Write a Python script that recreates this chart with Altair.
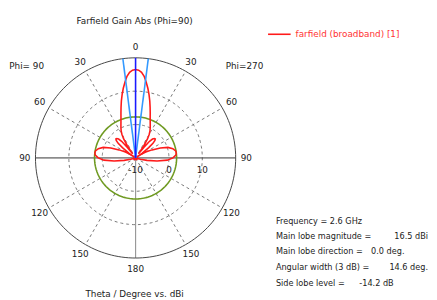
import altair as alt
import numpy as np
import pandas as pd

# ---- data ----
theta_deg = [0, 2, 4, 6, 7.3, 8, 10, 12, 14, 16, 18, 20, 22, 24, 26, 28, 30, 32, 34, 36,
             38, 40, 42, 44, 46, 48, 50, 52, 54, 56, 58, 60, 64, 68, 72, 76, 80, 83, 86,
             90, 94, 98, 102, 106, 110, 120, 135, 150, 165, 180]
gain_dbi = [16.5, 16.3, 15.7, 14.6, 13.5, 12.9, 11.2, 9.4, 7.6, 5.8, 4.2, 2.8, 1.7, 0.8, 0.0, -0.8, -1.8, -3.2, -5.5, -8.5,
            -6.0, -3.5, -2.4, -1.9, -1.8, -2.2, -3.2, -5.0, -7.5, -10.0, -8.0, -6.5, -4.5, -2.0, 0.2, 1.5, 2.2, 2.3, 2.1,
            1.2, -0.5, -3.5, -6.5, -8.5, -10.0, -11.0, -10.5, -9.2, -10.5, -9.6]

r_min_db = -10          # centre of the plot
grid_levels = [0, 10]   # dashed rings
outer_level = 20        # outer ring
main_lobe_mag = 16.5
main_lobe_dir = 0.0
angular_width = 14.6
side_lobe_level = -14.2
radial_labels = ["-10", "0", "10"]
radial_values = [-10, 0, 10]
angle_ticks = [0, 30, 60, 90, 120, 150, 180, -30, -60, -90, -120, -150]

info_labels = ["Frequency = 2.6 GHz", "Main lobe magnitude =", "Main lobe direction =",
               "Angular width (3 dB) =", "Side lobe level ="]
info_values = ["", "16.5 dBi", "0.0 deg.", "14.6 deg.", "-14.2 dB"]

# ---- scales: units = dB above the centre level, 3.4 px per unit ----
PX = 3.4
W, H = 429, 292
CX, CY = 130, 150
xdom = [-CX / PX, (W - CX) / PX]
ydom = [-(H - CY) / PX, CY / PX]
xs = alt.Scale(domain=xdom, nice=False, zero=False)
ys = alt.Scale(domain=ydom, nice=False, zero=False)

# pattern: left side = Phi=90 (positive theta), right side = Phi=270
th_full = [-t for t in theta_deg[::-1]] + theta_deg[1:]
g_full = gain_dbi[::-1] + gain_dbi[1:]
pat = pd.DataFrame({"theta": th_full, "gain": g_full, "idx": range(len(th_full))})

def polar(ch, rexpr, texpr):
    return ch.transform_calculate(
        r=f"max({rexpr}, 0)"
    ).transform_calculate(
        px=f"-datum.r*sin(({texpr})*PI/180)",
        py=f"datum.r*cos(({texpr})*PI/180)",
    )

X = alt.X("px:Q", scale=xs, axis=None)
Y = alt.Y("py:Q", scale=ys, axis=None)

# rings
ring_rows = []
for kind, lv in [("grid", grid_levels[0]), ("grid", grid_levels[1]), ("outer", outer_level),
                 ("sll", main_lobe_mag + side_lobe_level)]:
    for k, a in enumerate(np.arange(0, 362, 2)):
        ring_rows.append({"kind": kind, "level": lv, "ang": float(a), "k": k, "ring": f"{kind}{lv}"})
rings = pd.DataFrame(ring_rows)

def ring_layer(kind, color, width, dash=None):
    m = alt.Chart(rings).transform_filter(alt.datum.kind == kind)
    m = polar(m, f"datum.level - ({r_min_db})", "datum.ang")
    kw = dict(color=color, strokeWidth=width, clip=False)
    if dash:
        kw["strokeDash"] = dash
    return m.mark_line(**kw).encode(x=X, y=Y, order="k:Q", detail="ring:N")

grid_rings = ring_layer("grid", "#777777", 1, [3, 3])
outer_ring = ring_layer("outer", "#444444", 1)
sll_ring = ring_layer("sll", "#6f9a22", 1.6)

# spokes
spokes = pd.DataFrame({"ang": [30, 60, 120, 150, -30, -60, -120, -150]})
def spoke_layer(df, color, width, dash=None):
    m = alt.Chart(df).transform_calculate(
        R=f"{outer_level - r_min_db}"
    ).transform_calculate(
        x1="0", y1="0",
        x2b="-datum.R*sin(datum.ang*PI/180)", y2b="datum.R*cos(datum.ang*PI/180)",
    )
    kw = dict(color=color, strokeWidth=width)
    if dash:
        kw["strokeDash"] = dash
    return m.mark_rule(**kw).encode(
        x=alt.X("x1:Q", scale=xs, axis=None), y=alt.Y("y1:Q", scale=ys, axis=None),
        x2="x2b:Q", y2="y2b:Q")

dash_spokes = spoke_layer(spokes, "#777777", 1, [3, 3])
horiz = spoke_layer(pd.DataFrame({"ang": [90, -90]}), "#333333", 1)
vert = spoke_layer(pd.DataFrame({"ang": [180]}), "#999999", 1.2)

# beam lines
beam_main = spoke_layer(pd.DataFrame({"ang": [main_lobe_dir]}), "#1a1aff", 1.6)
beam_3db = spoke_layer(pd.DataFrame({"ang": [angular_width / 2, -angular_width / 2]}), "#3399ff", 1.6)

# pattern
pattern = polar(alt.Chart(pat), f"datum.gain - ({r_min_db})", "datum.theta").mark_line(
    color="#ff1a1a", strokeWidth=1.6, clip=False
).encode(x=X, y=Y, order="idx:Q")

FONT = "DejaVu Sans"
FS = 9

# angle labels
alab = pd.DataFrame({"ang": angle_ticks, "lab": [str(abs(a)) for a in angle_ticks]})
angle_text = alt.Chart(alab).transform_calculate(
    px="-33.2*sin(datum.ang*PI/180)", py="33.2*cos(datum.ang*PI/180)"
).mark_text(font=FONT, fontSize=FS, color="#222222", baseline="middle").encode(
    x=X, y=Y, text="lab:N")

# radial labels
rlab = pd.DataFrame({"lab": radial_labels, "val": radial_values})
radial_text = alt.Chart(rlab).transform_calculate(
    px=f"datum.val - ({r_min_db})", py="-3.5"
).mark_text(font=FONT, fontSize=FS, color="#222222", baseline="middle").encode(
    x=X, y=Y, text="lab:N")

def txt(s, x, y, align="center", color="#222222", size=FS, baseline="middle"):
    return alt.Chart(pd.DataFrame({"t": [s]})).mark_text(
        font=FONT, fontSize=size, color=color, align=align, baseline=baseline
    ).encode(x=alt.value(x), y=alt.value(y), text="t:N")

title = txt("Farfield Gain Abs (Phi=90)", 129, 11)
xlabel = txt("Theta / Degree vs.  dBi", 129, 292, baseline="alphabetic")
phi90 = txt("Phi= 90", 19, 56)
phi270 = txt("Phi=270", 241, 56)
legend_line = alt.Chart(pd.DataFrame({"a": [0]})).mark_rule(color="#ff1a1a", strokeWidth=1.6).encode(
    x=alt.value(265), x2=alt.value(288), y=alt.value(24))
legend_text = txt("farfield (broadband) [1]", 293, 24, align="left", color="#ff3333")

IFS = 8.3
info_y = [215, 231, 246, 262, 278]
info_vx = [0, 428, 404, 428, 393]
info = [txt(l, 273, y, align="left", size=IFS) for l, y in zip(info_labels, info_y)]
info += [txt(v, x, y, align="right", size=IFS) for v, x, y in zip(info_values, info_vx, info_y) if v]

chart = alt.layer(
    grid_rings, dash_spokes, vert, horiz, outer_ring, sll_ring, pattern, beam_3db, beam_main,
    angle_text, radial_text, title, xlabel, phi90, phi270, legend_line, legend_text, *info
).properties(
    width=W, height=H, autosize=alt.AutoSizeParams(type="none"), padding=0
).configure_view(stroke=None)

chart.save("out.html", embed_options={"renderer": "svg", "actions": False})
